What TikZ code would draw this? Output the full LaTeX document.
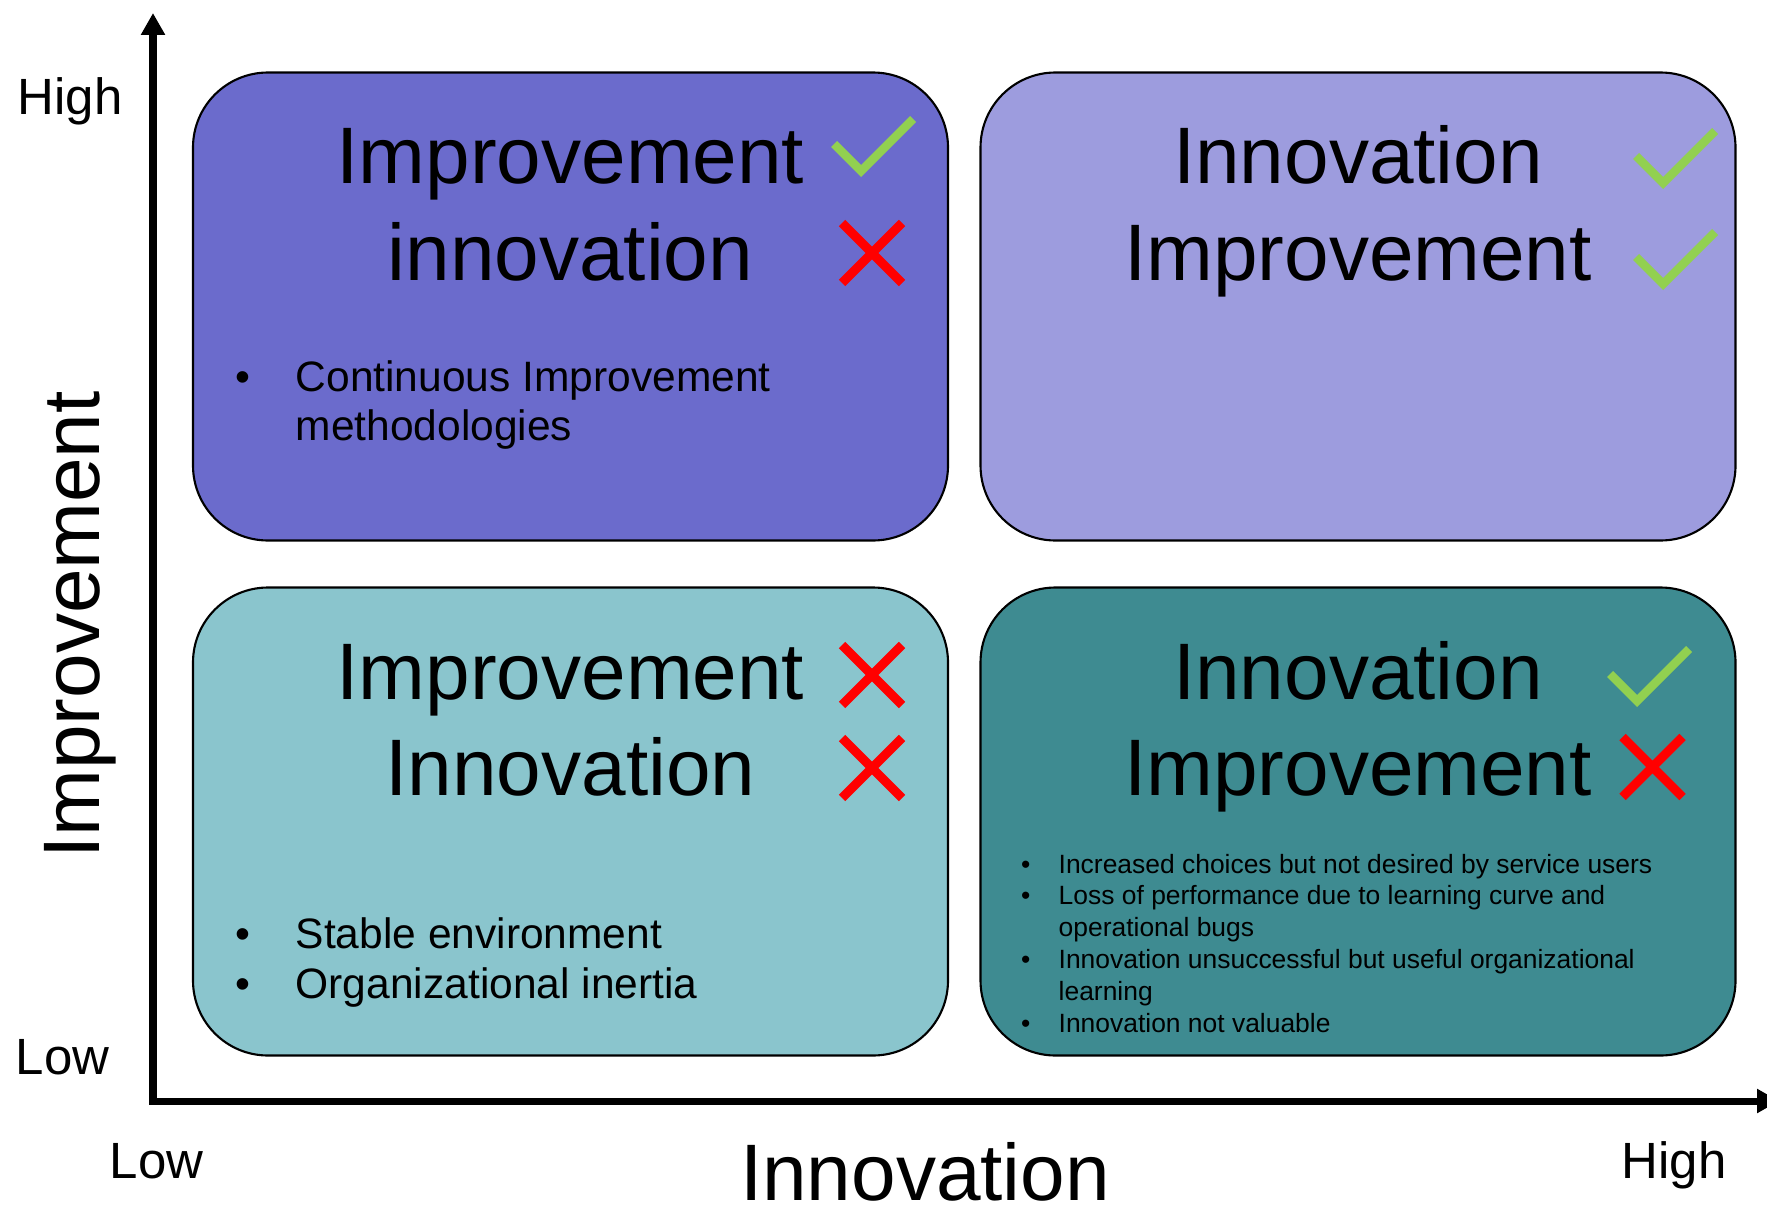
\documentclass[tikz,border=0pt]{standalone}
\usepackage{fontspec}
\setmainfont{Liberation Sans}
\usetikzlibrary{arrows.meta}
\definecolor{lowhigh}{RGB}{107,107,204}
\definecolor{highhigh}{RGB}{157,156,222}
\definecolor{lowlow}{RGB}{138,197,205}
\definecolor{highlow}{RGB}{62,139,145}
\definecolor{okgreen}{RGB}{146,208,80}
\definecolor{nored}{RGB}{255,0,0}
\tikzset{
  quad/.style={draw, line width=0.6pt, rounded corners=0.75cm, minimum width=7.55cm, minimum height=4.68cm, inner sep=0},
  head/.style={font=\fontsize{22.8}{27}\selectfont, anchor=base, inner sep=0},
  level/.style={font=\fontsize{14.5}{17}\selectfont, anchor=base west, inner sep=0},
  pts/.style={font=\fontsize{12.1}{14}\selectfont, anchor=base west, inner sep=0},
  smallpts/.style={font=\fontsize{7.52}{9.05}\selectfont, anchor=base west, inner sep=0},
  yesmark/.pic={\draw[okgreen, line width=0.085cm, line join=miter] (-0.27,0.27) -- (0,0) -- (0.52,0.52);},
  nomark/.pic={\draw[nored, line width=0.09cm] (-0.3,0.3) -- (0.3,-0.3) (-0.3,-0.3) -- (0.3,0.3);}
}
\begin{document}
\begin{tikzpicture}
  \useasboundingbox (0,0) rectangle (17.67,12.17);
  % axes
  \coordinate (org) at (1.53,1.16);
  \coordinate (ytop) at (1.53,12.04);
  \coordinate (xend) at (17.79,1.16);
  \draw[line width=2pt, {Triangle[length=2.2mm,width=2.3mm]}-{Triangle[length=2.2mm,width=2.3mm]}] (ytop) -- (org) -- (xend);
  \node[level] (yhigh) at (0.17,11.02) {High};
  \node[level] (ylow) at (0.15,1.43) {Low};
  \node[level] (xlow) at (1.09,0.39) {Low};
  \node[level] (xhigh) at (16.21,0.39) {High};
  \node[head] (xname) at (9.25,0.17) {Innovation};
  \node[head, rotate=90] (yname) at (0.99,5.92) {Improvement};
  % quadrants
  \node[quad, fill=lowhigh] (lh) at (5.705,9.105) {};
  \node[quad, fill=highhigh] (hh) at (13.58,9.105) {};
  \node[quad, fill=lowlow] (ll) at (5.705,3.955) {};
  \node[quad, fill=highlow] (hl) at (13.58,3.955) {};
  % low innovation, high improvement
  \node[head] (lh1) at (5.705,10.33) {Improvement};
  \node[head] (lh2) at (5.705,9.37) {innovation};
  \pic (lhyes) at (8.61,10.46) {yesmark};
  \pic (lhno) at (8.72,9.64) {nomark};
  \node[pts] (lhpts) at (2.345,8.26) {\begin{tabular}[t]{@{}p{6.05mm}@{}l@{}}
    \textbullet & Continuous Improvement\\
     & methodologies
  \end{tabular}};
  % high innovation, high improvement
  \node[head] (hh1) at (13.58,10.33) {Innovation};
  \node[head] (hh2) at (13.58,9.37) {Improvement};
  \pic (hhyes1) at (16.63,10.34) {yesmark};
  \pic (hhyes2) at (16.63,9.33) {yesmark};
  % low innovation, low improvement
  \node[head] (ll1) at (5.705,5.18) {Improvement};
  \node[head] (ll2) at (5.705,4.22) {Innovation};
  \pic (llno1) at (8.72,5.42) {nomark};
  \pic (llno2) at (8.72,4.49) {nomark};
  \node[pts, font=\fontsize{12.1}{14.5}\selectfont] (llpts) at (2.345,2.69) {\begin{tabular}[t]{@{}p{6.05mm}@{}l@{}}
    \textbullet & Stable environment\\
    \textbullet & Organizational inertia
  \end{tabular}};
  % high innovation, low improvement
  \node[head] (hl1) at (13.58,5.18) {Innovation};
  \node[head] (hl2) at (13.58,4.22) {Improvement};
  \pic (hlyes) at (16.37,5.16) {yesmark};
  \pic (hlno) at (16.525,4.50) {nomark};
  \node[smallpts] (hlpts) at (10.205,3.44) {\begin{tabular}[t]{@{}p{3.75mm}@{}l@{}}
    \textbullet & Increased choices but not desired by service users\\
    \textbullet & Loss of performance due to learning curve and\\
     & operational bugs\\
    \textbullet & Innovation unsuccessful but useful organizational\\
     & learning\\
    \textbullet & Innovation not valuable
  \end{tabular}};
\end{tikzpicture}
\end{document}
